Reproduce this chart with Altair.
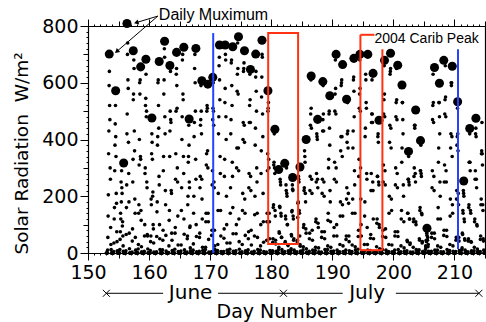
import altair as alt
import pandas as pd

X_DOMAIN = [150, 215]
Y_DOMAIN = [0, 800]

# daily maxima (big dots)
MAX_DAY = [153.48, 154.53, 155.84, 156.38, 157.41, 158.62, 159.48, 160.46, 161.66, 162.54,
           163.41, 164.50, 165.69, 166.56, 167.66, 168.64, 169.62, 170.43, 171.53, 172.45,
           173.70, 174.64, 175.62, 176.60, 177.46, 178.49, 179.46, 180.60, 181.22, 182.21,
           183.51, 184.71, 185.72, 186.54, 187.60, 188.45, 189.59, 190.62, 191.69, 192.34,
           193.53, 194.52, 195.81, 196.67, 197.65, 198.55, 199.53, 200.71, 201.41, 202.48,
           203.65, 204.44, 205.50, 206.73, 207.54, 208.25, 209.64, 210.52, 211.52, 212.50,
           213.51]
MAX_VAL = [701, 572, 317, 809, 713, 656, 683, 476, 675, 746,
           661, 707, 725, 472, 721, 607, 595, 619, 733, 733,
           727, 762, 713, 647, 701, 750, 572, 436, 294, 316,
           266, 303, 400, 624, 471, 604, 554, 700, 664, 542,
           686, 700, 700, 633, 468, 679, 704, 662, 592, 358,
           504, 396, 87, 654, 598, 679, 658, 533, 254, 439,
           475]

# hourly values, hours 05..19 of each day
HOURS = list(range(5, 20))
NIGHT_HOURS = [0, 1, 2, 3, 4, 20, 21, 22, 23]
HOURLY = {
    153: [10, 55, 130, 205, 350, 430, 590, 640, 520, 470, 300, 260, 90, 30, 12],
    154: [5, 35, 120, 160, 290, 380, 455, 520, 410, 340, 210, 175, 75, 40, 8],
    155: [12, 48, 75, 140, 120, 250, 180, 290, 230, 210, 95, 110, 60, 25, 6],
    156: [8, 65, 160, 240, 420, 490, 700, 740, 610, 580, 390, 280, 180, 70, 15],
    157: [3, 42, 85, 250, 330, 540, 560, 680, 650, 430, 360, 190, 140, 55, 10],
    158: [14, 30, 140, 170, 310, 400, 600, 560, 610, 340, 330, 150, 115, 22, 4],
    159: [6, 60, 100, 280, 300, 520, 545, 630, 480, 500, 250, 230, 65, 60, 14],
    160: [9, 40, 60, 190, 170, 350, 420, 390, 330, 200, 215, 100, 85, 35, 3],
    161: [4, 58, 145, 180, 380, 410, 600, 610, 520, 440, 270, 240, 100, 50, 12],
    162: [11, 45, 80, 290, 340, 560, 610, 720, 690, 480, 420, 220, 170, 62, 7],
    163: [2, 25, 115, 150, 340, 430, 500, 640, 470, 460, 220, 210, 70, 45, 9],
    164: [13, 70, 90, 260, 350, 500, 630, 650, 590, 510, 300, 250, 130, 28, 5],
    165: [7, 28, 150, 230, 400, 480, 680, 700, 560, 540, 340, 280, 120, 66, 11],
    166: [3, 50, 60, 170, 200, 320, 340, 450, 380, 250, 230, 90, 95, 18, 8],
    167: [10, 32, 140, 200, 410, 460, 650, 700, 600, 500, 330, 260, 100, 58, 4],
    168: [6, 55, 70, 230, 270, 450, 470, 590, 500, 420, 260, 190, 120, 20, 9],
    169: [12, 20, 110, 140, 310, 350, 500, 520, 510, 360, 300, 140, 110, 48, 3],
    170: [4, 62, 80, 240, 290, 470, 510, 600, 500, 450, 250, 230, 80, 25, 12],
    171: [9, 30, 150, 210, 420, 480, 660, 690, 610, 540, 340, 280, 150, 60, 5],
    172: [5, 52, 85, 270, 330, 530, 580, 700, 680, 480, 400, 200, 100, 35, 10],
    173: [13, 35, 140, 230, 420, 470, 670, 680, 590, 520, 320, 270, 160, 68, 6],
    174: [8, 68, 100, 300, 370, 570, 630, 740, 650, 560, 370, 290, 120, 40, 13],
    175: [4, 30, 150, 210, 400, 460, 640, 650, 670, 450, 390, 190, 140, 62, 8],
    176: [11, 50, 75, 230, 280, 460, 520, 630, 540, 460, 270, 220, 80, 28, 3],
    177: [6, 60, 135, 200, 380, 440, 620, 640, 570, 500, 300, 250, 140, 55, 12],
    178: [10, 25, 100, 280, 360, 550, 620, 700, 690, 490, 410, 210, 110, 38, 5],
    179: [3, 45, 110, 140, 290, 350, 500, 510, 530, 330, 300, 140, 110, 50, 9],
    180: [8, 38, 50, 160, 170, 310, 320, 420, 300, 280, 150, 130, 45, 32, 6],
    181: [12, 20, 75, 70, 165, 160, 260, 250, 240, 140, 130, 55, 55, 12, 4],
    182: [5, 35, 40, 130, 120, 240, 220, 300, 210, 200, 100, 100, 30, 26, 8],
    183: [9, 15, 65, 60, 145, 150, 240, 225, 220, 130, 120, 45, 50, 10, 2],
    184: [4, 40, 45, 125, 175, 180, 270, 260, 250, 150, 140, 60, 30, 24, 7],
    185: [11, 22, 90, 100, 220, 230, 360, 340, 320, 210, 180, 85, 70, 15, 3],
    186: [6, 50, 70, 220, 270, 450, 490, 610, 510, 440, 260, 210, 80, 45, 10],
    187: [9, 20, 110, 120, 250, 280, 420, 410, 400, 260, 230, 105, 90, 18, 4],
    188: [3, 55, 75, 210, 260, 430, 470, 590, 490, 430, 250, 200, 75, 50, 12],
    189: [12, 25, 115, 140, 300, 330, 490, 500, 440, 380, 220, 180, 110, 20, 6],
    190: [7, 60, 90, 260, 320, 500, 560, 680, 580, 490, 300, 250, 100, 60, 10],
    191: [4, 30, 130, 180, 360, 410, 590, 600, 610, 410, 340, 170, 130, 25, 5],
    192: [10, 48, 60, 190, 230, 390, 420, 530, 430, 370, 210, 175, 60, 40, 8],
    193: [5, 28, 140, 190, 370, 430, 610, 620, 570, 480, 290, 240, 140, 22, 11],
    194: [13, 58, 80, 270, 330, 510, 560, 680, 580, 500, 300, 190, 100, 60, 4],
    195: [6, 30, 130, 180, 410, 440, 630, 610, 530, 510, 280, 260, 90, 30, 10],
    196: [9, 52, 65, 220, 280, 460, 490, 610, 490, 460, 250, 220, 120, 50, 3],
    197: [3, 22, 105, 120, 270, 270, 410, 420, 390, 250, 240, 100, 90, 15, 7],
    198: [12, 58, 80, 250, 310, 490, 540, 660, 560, 480, 290, 240, 85, 55, 10],
    199: [5, 30, 140, 200, 390, 450, 630, 640, 650, 440, 370, 190, 150, 28, 4],
    200: [10, 60, 75, 240, 300, 480, 530, 650, 540, 470, 280, 230, 75, 58, 12],
    201: [4, 25, 120, 150, 320, 370, 530, 530, 470, 420, 240, 200, 110, 18, 6],
    202: [8, 45, 40, 140, 140, 260, 260, 340, 250, 240, 120, 120, 30, 35, 3],
    203: [3, 20, 110, 120, 270, 300, 450, 440, 450, 280, 250, 110, 100, 12, 9],
    204: [11, 50, 45, 150, 160, 290, 290, 380, 280, 270, 140, 135, 35, 40, 5],
    205: [2, 12, 25, 20, 45, 40, 70, 62, 78, 45, 55, 22, 30, 6, 1],
    206: [6, 55, 70, 230, 290, 470, 520, 630, 530, 460, 270, 220, 70, 50, 10],
    207: [10, 25, 120, 160, 320, 370, 530, 530, 480, 420, 250, 200, 120, 20, 4],
    208: [4, 62, 80, 250, 310, 490, 540, 660, 550, 480, 290, 250, 80, 58, 12],
    209: [9, 30, 130, 190, 370, 420, 600, 590, 600, 410, 340, 170, 140, 25, 6],
    210: [5, 45, 55, 190, 220, 380, 410, 510, 420, 360, 210, 170, 55, 42, 9],
    211: [12, 18, 70, 65, 150, 140, 220, 210, 200, 120, 110, 50, 45, 10, 3],
    212: [4, 42, 50, 160, 170, 320, 320, 420, 320, 290, 150, 140, 40, 38, 8],
    213: [8, 20, 110, 120, 260, 290, 420, 440, 410, 260, 230, 100, 95, 14, 5],
    214: [5, 48, 60, 170, 190, 350, 360, 460, 350, 310, 170, 150, 50, 42, 10],
}

# annotation geometry (data units)
RECT1 = {"x1": [179.5], "x2": [184.4], "y1": [32], "y2": [775]}
RED_SEG_X1 = [194.6, 194.6, 194.6, 198.2]
RED_SEG_X2 = [194.6, 196.9, 198.2, 198.2]
RED_SEG_Y1 = [10, 769, 10, 10]
RED_SEG_Y2 = [769, 769, 10, 718]
BLUE_X = [170.5, 210.58]
BLUE_Y1 = [0, 14]
BLUE_Y2 = [775, 718]
ARROW_X1 = [161.44, 161.44]
ARROW_Y1 = [835, 835]
ARROW_X2 = [157.9, 154.7]
ARROW_Y2 = [812, 710]
ARROW_ANGLE = [343, 320]
NOTE_TEXT = ["Daily Muximum", "2004 Carib Peak"]
NOTE_X = [161.6, 196.9]
NOTE_Y = [822, 740]
NOTE_SIZE = [16, 14]
MONTH_CROSS = [153, 182, 214]
MONTH_SEG_X1 = [153, 171.3, 182, 200.4]
MONTH_SEG_X2 = [162.3, 182, 191.7, 214]
MONTH_NAME = ["June", "July"]
MONTH_NAME_X = [166.8, 195.7]
MONTH_Y = -142

rows = []
for d, vals in HOURLY.items():
    for h, v in zip(HOURS, vals):
        rows.append({"day": d + h / 24, "val": v})
    for h in NIGHT_HOURS:
        rows.append({"day": d + h / 24, "val": 0})
hourly_df = pd.DataFrame(rows)
max_df = pd.DataFrame({"day": MAX_DAY, "val": MAX_VAL})

AX_FONT = "DejaVu Sans"
NOTE_FONT = "Liberation Sans"
RED = "#ff3311"
BLUE = "#2244ff"

xs = alt.Scale(domain=X_DOMAIN, nice=False, zero=False)
ys = alt.Scale(domain=Y_DOMAIN, nice=False, zero=False)

common_axis = dict(grid=False, domainColor="black", domainWidth=1.2, tickColor="black",
                   tickWidth=1, labelColor="black", labelFont=AX_FONT, labelFontSize=19,
                   labelOverlap=False, labelBound=False, labelFlush=False, format="d")
x_ticks = {"condition": [{"test": "datum.value % 10 == 0", "value": 7},
                         {"test": "datum.value % 5 == 0", "value": 5}], "value": 2}
y_ticks = {"condition": [{"test": "datum.value % 200 == 0", "value": 8},
                         {"test": "datum.value % 100 == 0", "value": 5}], "value": 2}
x_vals = list(range(150, 216))
y_vals = list(range(0, 801, 20))

bottom_axis = alt.Axis(orient="bottom", values=x_vals, tickSize=x_ticks, labelPadding=3,
                       labelExpr="datum.value % 10 == 0 ? datum.label : ''",
                       title="Day Number", titleFont=AX_FONT, titleFontSize=19,
                       titleFontWeight="normal", titleColor="black", titleX=188, titleY=64,
                       titleBaseline="alphabetic", titleAlign="center", **common_axis)
top_axis = alt.Axis(orient="top", values=x_vals, tickSize=x_ticks, labels=False, title=None,
                    **common_axis)
left_axis = alt.Axis(orient="left", values=y_vals, tickSize=y_ticks, labelPadding=2,
                     labelExpr="datum.value % 200 == 0 ? datum.label : ''",
                     title="Solar Radiation\u00a0\u00a0W/m\u00b2", titleFont=AX_FONT,
                     titleFontSize=18.5, titleFontWeight="normal", titleColor="black",
                     titleX=-67, titleY=127, titleAngle=270, titleBaseline="middle",
                     titleAlign="center", **common_axis)
right_axis = alt.Axis(orient="right", values=y_vals, tickSize=y_ticks, labels=False, title=None,
                      **common_axis)

small = alt.Chart(hourly_df).mark_circle(size=13, color="black", opacity=1).encode(
    x=alt.X("day:Q", scale=xs, axis=bottom_axis),
    y=alt.Y("val:Q", scale=ys, axis=left_axis),
)
big = alt.Chart(max_df).mark_circle(size=82, color="black", opacity=1, clip=False).encode(
    x=alt.X("day:Q", scale=xs, axis=top_axis),
    y=alt.Y("val:Q", scale=ys, axis=right_axis),
)

rect1 = alt.Chart(pd.DataFrame(RECT1)).mark_rect(fillOpacity=0, stroke=RED, strokeWidth=2).encode(
    x=alt.X("x1:Q", scale=xs, axis=None), x2="x2:Q",
    y=alt.Y("y1:Q", scale=ys, axis=None), y2="y2:Q",
)
red_seg = alt.Chart(pd.DataFrame({"x1": RED_SEG_X1, "x2": RED_SEG_X2, "y1": RED_SEG_Y1,
                                  "y2": RED_SEG_Y2})).mark_rule(color=RED, strokeWidth=2).encode(
    x=alt.X("x1:Q", scale=xs, axis=None), x2="x2:Q",
    y=alt.Y("y1:Q", scale=ys, axis=None), y2="y2:Q",
)
blue = alt.Chart(pd.DataFrame({"x": BLUE_X, "y1": BLUE_Y1, "y2": BLUE_Y2})).mark_rule(
    color=BLUE, strokeWidth=2).encode(
    x=alt.X("x:Q", scale=xs, axis=None),
    y=alt.Y("y1:Q", scale=ys, axis=None), y2="y2:Q",
)
arrow_df = pd.DataFrame({"x1": ARROW_X1, "y1": ARROW_Y1, "x2": ARROW_X2, "y2": ARROW_Y2,
                         "ang": ARROW_ANGLE})
arrow_line = alt.Chart(arrow_df).mark_rule(color="black", strokeWidth=1, clip=False).encode(
    x=alt.X("x1:Q", scale=xs, axis=None), x2="x2:Q",
    y=alt.Y("y1:Q", scale=ys, axis=None), y2="y2:Q",
)
arrow_head = alt.Chart(arrow_df).mark_point(shape="triangle-left", filled=True, size=28,
                                            color="black", opacity=1, clip=False).encode(
    x=alt.X("x2:Q", scale=xs, axis=None),
    y=alt.Y("y2:Q", scale=ys, axis=None),
    angle=alt.Angle("ang:Q", scale=None),
)
notes = alt.Chart(pd.DataFrame({"t": NOTE_TEXT, "x": NOTE_X, "y": NOTE_Y, "s": NOTE_SIZE})).mark_text(
    align="left", baseline="alphabetic", font=NOTE_FONT, color="black", clip=False).encode(
    x=alt.X("x:Q", scale=xs, axis=None),
    y=alt.Y("y:Q", scale=ys, axis=None),
    text="t:N",
    size=alt.Size("s:Q", scale=None),
)
month_line = alt.Chart(pd.DataFrame({"x1": MONTH_SEG_X1, "x2": MONTH_SEG_X2,
                                     "y": [MONTH_Y] * 4})).mark_rule(
    color="black", strokeWidth=1, clip=False).encode(
    x=alt.X("x1:Q", scale=xs, axis=None), x2="x2:Q",
    y=alt.Y("y:Q", scale=ys, axis=None),
)
month_cross = alt.Chart(pd.DataFrame({"x": MONTH_CROSS, "y": [MONTH_Y] * 3})).mark_point(
    shape="M-1,-1L1,1M-1,1L1,-1", size=49, color="black", strokeWidth=1, opacity=1,
    filled=False, clip=False).encode(
    x=alt.X("x:Q", scale=xs, axis=None),
    y=alt.Y("y:Q", scale=ys, axis=None),
)
month_text = alt.Chart(pd.DataFrame({"t": MONTH_NAME, "x": MONTH_NAME_X,
                                     "y": [MONTH_Y] * 2})).mark_text(
    font=AX_FONT, fontSize=20, color="black", baseline="middle", align="center",
    clip=False).encode(
    x=alt.X("x:Q", scale=xs, axis=None),
    y=alt.Y("y:Q", scale=ys, axis=None),
    text="t:N",
)

chart = alt.layer(
    small, big, rect1, red_seg, blue, arrow_line, arrow_head, notes,
    month_line, month_cross, month_text,
).properties(
    width=397, height=227,
    autosize=alt.AutoSizeParams(type="none"),
    padding={"left": 88, "top": 26, "right": 1, "bottom": 69},
    background="white",
).configure_view(stroke=None)

chart.save("out.html", embed_options={"renderer": "svg", "actions": False})
